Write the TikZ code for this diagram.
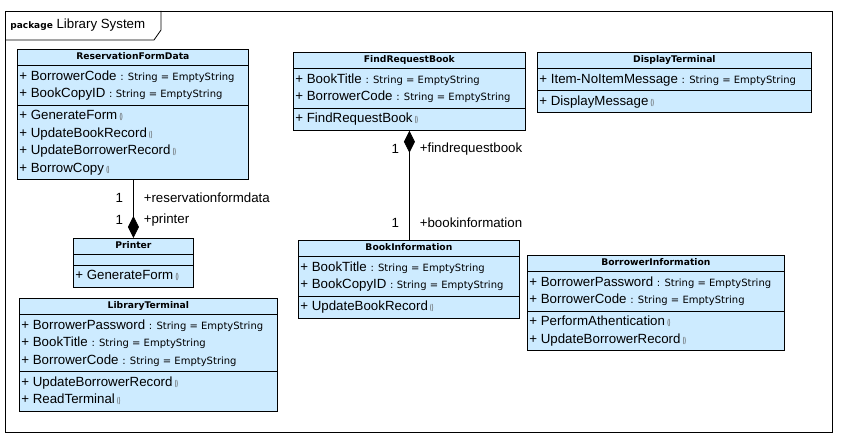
\documentclass[tikz,border=0pt]{standalone}
\usepackage{fontspec}
\usepackage{graphicx}
\setmainfont{Liberation Sans}
\newfontfamily\typefont{DejaVu Sans}
\usetikzlibrary{shapes.multipart,arrows.meta}

\definecolor{classfill}{RGB}{205,235,255}

\newcommand\umlrow{\rule[-5pt]{0pt}{17.5pt}}
\newcommand\umlhead[1]{\rule[-3pt]{0pt}{11pt}{\typefont\bfseries\fontsize{9.2}{11}\selectfont #1}}
\newcommand\umlattr[1]{\umlrow+ #1\ {\typefont\fontsize{10}{11}\selectfont: String = EmptyString}}
\newcommand\umlop[1]{\umlrow+ #1\,{\typefont\bfseries\fontsize{8}{8}\selectfont\color{black!65}\scalebox{0.45}[1]{()}}}
\newcommand\umlempty{\rule{0pt}{6pt}}

\begin{document}
\begin{tikzpicture}[x=1pt,y=-1pt,>=Stealth,line width=0.8pt,
  font=\fontsize{13.3}{17.5}\selectfont]
  \tikzset{class/.style={rectangle split,rectangle split parts=3,draw,fill=classfill,
      anchor=north west,align=left,inner xsep=2pt,inner ysep=2pt,
      rectangle split part align={center,left,left}},
    role/.style={inner sep=2pt,font=\fontsize{13.3}{15}\selectfont},
    owner/.style={{Diamond[length=22pt,width=11pt]}-}}
  \useasboundingbox (0,0) rectangle (841,438);
  % package frame
  \draw (5,11) rectangle (832,432);
  \draw (5,40) -- (154,40) -- (161,30) -- (161,11);
  \node[anchor=west,inner sep=0pt] (pkg) at (10,25)
    {{\typefont\bfseries\fontsize{9}{11}\selectfont package}\ Library System};
  % classes
  \node[class,minimum width=231pt] (rfd) at (17,49) {\umlhead{ReservationFormData}
    \nodepart{second}\umlattr{BorrowerCode}\\\umlattr{BookCopyID}
    \nodepart{third}\umlop{GenerateForm}\\\umlop{UpdateBookRecord}\\\umlop{UpdateBorrowerRecord}\\\umlop{BorrowCopy}};
  \node[class,minimum width=120pt] (printer) at (73,238) {\umlhead{Printer}
    \nodepart{second}\umlempty
    \nodepart{third}\umlop{GenerateForm}};
  \node[class,minimum width=258pt] (lt) at (19,298) {\umlhead{LibraryTerminal}
    \nodepart{second}\umlattr{BorrowerPassword}\\\umlattr{BookTitle}\\\umlattr{BorrowerCode}
    \nodepart{third}\umlop{UpdateBorrowerRecord}\\\umlop{ReadTerminal}};
  \node[class,minimum width=232pt] (frb) at (293,52) {\umlhead{FindRequestBook}
    \nodepart{second}\umlattr{BookTitle}\\\umlattr{BorrowerCode}
    \nodepart{third}\umlop{FindRequestBook}};
  \node[class,minimum width=274pt] (dt) at (537,52) {\umlhead{DisplayTerminal}
    \nodepart{second}\umlattr{Item-NoItemMessage}
    \nodepart{third}\umlop{DisplayMessage}};
  \node[class,minimum width=221pt] (bookinfo) at (298,240) {\umlhead{BookInformation}
    \nodepart{second}\umlattr{BookTitle}\\\umlattr{BookCopyID}
    \nodepart{third}\umlop{UpdateBookRecord}};
  \node[class,minimum width=257pt] (bi) at (527,255) {\umlhead{BorrowerInformation}
    \nodepart{second}\umlattr{BorrowerPassword}\\\umlattr{BorrowerCode}
    \nodepart{third}\umlop{PerformAthentication}\\\umlop{UpdateBorrowerRecord}};
  % compositions
  \draw[owner] (printer.north) -- (printer.north |- rfd.south)
    node[role,pos=0.69,left=8pt] {1} node[role,pos=0.69,right=8pt] {+reservationformdata}
    node[role,pos=0.31,left=8pt] {1} node[role,pos=0.31,right=8pt] {+printer};
  \draw[owner] (frb.south) -- (frb.south |- bookinfo.north)
    node[role,pos=0.165,left=8pt] {1} node[role,pos=0.165,right=8pt] {+findrequestbook}
    node[role,pos=0.843,left=8pt] {1} node[role,pos=0.843,right=8pt] {+bookinformation};
\end{tikzpicture}
\end{document}
